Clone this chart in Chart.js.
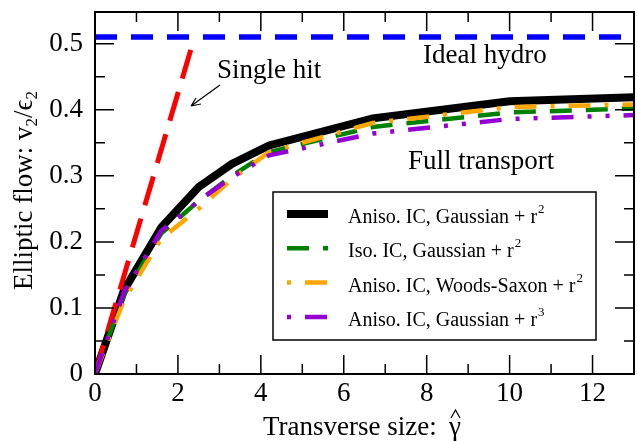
<!DOCTYPE html>
<html>
<head>
<meta charset="utf-8">
<script src="https://cdn.jsdelivr.net/npm/chart.js@4.4.1/dist/chart.umd.min.js"></script>
<style>
  body { margin: 0; background: #fff; }
  canvas { display: block; }
</style>
</head>
<body>
<canvas id="myChart" width="637" height="441"></canvas>
<script>
// transverse size gamma-hat and v2/eps2
const gamma = [0, 0.7, 1.6, 2.5, 3.3, 4.2, 6.7, 10, 13];
const anisoGauss2 = [0, 0.127, 0.222, 0.283, 0.318, 0.346, 0.387, 0.413, 0.419];
const isoGauss2   = [0, 0.120, 0.213, 0.262, 0.300, 0.336, 0.374, 0.396, 0.402];
const anisoWS2    = [0, 0.112, 0.205, 0.250, 0.295, 0.336, 0.380, 0.404, 0.408];
const anisoGauss3 = [0, 0.124, 0.217, 0.262, 0.298, 0.331, 0.364, 0.386, 0.392];
const hydroX = [0, 13];
const hydroY = [0.51, 0.51];
const singleHitX = [0, 2.4];
const singleHitY = [0, 0.51];

const xTicks = [0, 2, 4, 6, 8, 10, 12];
const yTicks = [0, 0.1, 0.2, 0.3, 0.4, 0.5];

const serif = '"Liberation Serif", "Times New Roman", serif';
const big = '27px ' + serif;

function pts(xs, ys) {
  return xs.map((x, i) => ({ x: x, y: ys[i] }));
}

const legendRows = [
  { text: 'Aniso. IC, Gaussian + r', sup: '2', color: '#000000', width: 8, dash: [], offset: 0 },
  { text: 'Iso. IC, Gaussian + r', sup: '2', color: '#008000', width: 4.5, dash: [22, 14], offset: 0 },
  { text: 'Aniso. IC, Woods-Saxon + r', sup: '2', color: '#ffa500', width: 4.5, dash: [22, 14, 4, 14], offset: 36 },
  { text: 'Aniso. IC, Gaussian + r', sup: '3', color: '#9400d3', width: 4.5, dash: [22, 14, 4, 14, 4, 14], offset: 54 }
];

// frame, inward ticks, titles, labels and the legend
const decor = {
  id: 'decor',
  afterDraw(chart) {
    const ctx = chart.ctx;
    const a = chart.chartArea;
    const xs = chart.scales.x, ys = chart.scales.y;
    ctx.save();
    ctx.strokeStyle = '#000';
    ctx.fillStyle = '#000';

    // ticks on all four sides
    ctx.lineWidth = 1.5;
    ctx.beginPath();
    for (let v = 0; v <= 13; v++) {
      const px = xs.getPixelForValue(v);
      const len = v % 2 === 0 ? 19 : 10;
      ctx.moveTo(px, a.bottom); ctx.lineTo(px, a.bottom - len);
      ctx.moveTo(px, a.top); ctx.lineTo(px, a.top + len);
    }
    for (let k = 0; k <= 10; k++) {
      const py = ys.getPixelForValue(k * 0.05);
      const len = k % 2 === 0 ? 19 : 10;
      ctx.moveTo(a.left, py); ctx.lineTo(a.left + len, py);
      ctx.moveTo(a.right, py); ctx.lineTo(a.right - len, py);
    }
    ctx.stroke();

    ctx.lineWidth = 2;
    ctx.strokeRect(a.left, a.top, a.right - a.left, a.bottom - a.top);

    // annotations
    ctx.font = big;
    ctx.textBaseline = 'alphabetic';
    ctx.textAlign = 'left';
    ctx.fillText('Ideal hydro', 423, 63);
    ctx.fillText('Single hit', 217, 78);
    ctx.fillText('Full transport', 408, 169);

    // arrow to the single hit line
    ctx.lineWidth = 1.2;
    ctx.beginPath();
    ctx.moveTo(220, 85);
    ctx.lineTo(191, 106);
    ctx.moveTo(191, 106); ctx.lineTo(196, 98);
    ctx.moveTo(191, 106); ctx.lineTo(201, 104);
    ctx.stroke();

    // x title with hat on gamma
    ctx.fillText('Transverse size:', 263, 435);
    ctx.fillText('\u03b3', 449, 435);
    ctx.lineWidth = 1.2;
    ctx.beginPath();
    ctx.moveTo(451, 418); ctx.lineTo(455.5, 410); ctx.lineTo(460, 418);
    ctx.stroke();

    // y title, rotated
    ctx.save();
    ctx.translate(32, 290);
    ctx.rotate(-Math.PI / 2);
    let t = 'Elliptic flow: v';
    ctx.fillText(t, 0, 0);
    let w = ctx.measureText(t).width;
    ctx.font = '17px ' + serif;
    ctx.fillText('2', w, 5);
    w += ctx.measureText('2').width;
    ctx.font = big;
    ctx.fillText('/\u03f5', w, 0);
    w += ctx.measureText('/\u03f5').width;
    ctx.font = '17px ' + serif;
    ctx.fillText('2', w, 5);
    ctx.restore();

    // legend box
    const box = { l: 273, t: 192, r: 596, b: 340 };
    ctx.fillStyle = '#fff';
    ctx.fillRect(box.l, box.t, box.r - box.l, box.b - box.t);
    ctx.strokeStyle = '#000';
    ctx.lineWidth = 1.5;
    ctx.strokeRect(box.l, box.t, box.r - box.l, box.b - box.t);
    legendRows.forEach((row, i) => {
      const cy = 214 + i * 34.3;
      ctx.save();
      ctx.strokeStyle = row.color;
      ctx.lineWidth = row.width;
      ctx.setLineDash(row.dash);
      ctx.lineDashOffset = row.offset;
      ctx.beginPath();
      ctx.moveTo(287, cy); ctx.lineTo(328, cy);
      ctx.stroke();
      ctx.restore();
      ctx.fillStyle = '#000';
      ctx.font = '20px ' + serif;
      ctx.fillText(row.text, 348, cy + 9);
      const tw = ctx.measureText(row.text).width;
      ctx.font = '13px ' + serif;
      ctx.fillText(row.sup, 348 + tw + 1, cy - 1);
    });
    ctx.restore();
  }
};

const ctx = document.getElementById('myChart');

new Chart(ctx, {
  type: 'scatter',
  data: {
    datasets: [
      { data: pts(gamma, anisoGauss3), borderColor: '#9400d3', borderWidth: 4.5, borderDash: [22, 14, 4, 14, 4, 14] },
      { data: pts(gamma, anisoWS2), borderColor: '#ffa500', borderWidth: 4.5, borderDash: [22, 14, 4, 14] },
      { data: pts(gamma, isoGauss2), borderColor: '#008000', borderWidth: 4.5, borderDash: [22, 14] },
      { data: pts(singleHitX, singleHitY), borderColor: '#ff0000', borderWidth: 5, borderDash: [30, 14] },
      { data: pts(gamma, anisoGauss2), borderColor: '#000000', borderWidth: 8 },
      { data: pts(hydroX, hydroY), borderColor: '#0000ff', borderWidth: 5.5, borderDash: [22, 14] }
    ]
  },
  options: {
    responsive: false,
    animation: false,
    showLine: true,
    elements: { point: { radius: 0 }, line: { tension: 0, fill: false } },
    layout: { padding: { left: 0, right: 3, top: 12, bottom: 0 } },
    plugins: { legend: { display: false }, tooltip: { enabled: false } },
    scales: {
      x: {
        type: 'linear', min: 0, max: 13,
        afterBuildTicks(s) { s.ticks = xTicks.map(v => ({ value: v })); },
        afterFit(s) { s.height = 67; s.paddingLeft = 0; s.paddingRight = 0; },
        grid: { display: false, drawTicks: false },
        border: { display: false },
        ticks: { padding: 4, color: '#000', font: { family: serif, size: 27 }, maxRotation: 0 }
      },
      y: {
        type: 'linear', min: 0, max: 0.548,
        afterBuildTicks(s) { s.ticks = yTicks.map(v => ({ value: v })); },
        afterFit(s) { s.width = 95; s.paddingTop = 0; s.paddingBottom = 0; },
        grid: { display: false, drawTicks: false },
        border: { display: false },
        ticks: { padding: 12, color: '#000', font: { family: serif, size: 27 },
          callback: v => (v === 0 ? '0' : v.toFixed(1)) }
      }
    }
  },
  plugins: [decor]
});
</script>
</body>
</html>
